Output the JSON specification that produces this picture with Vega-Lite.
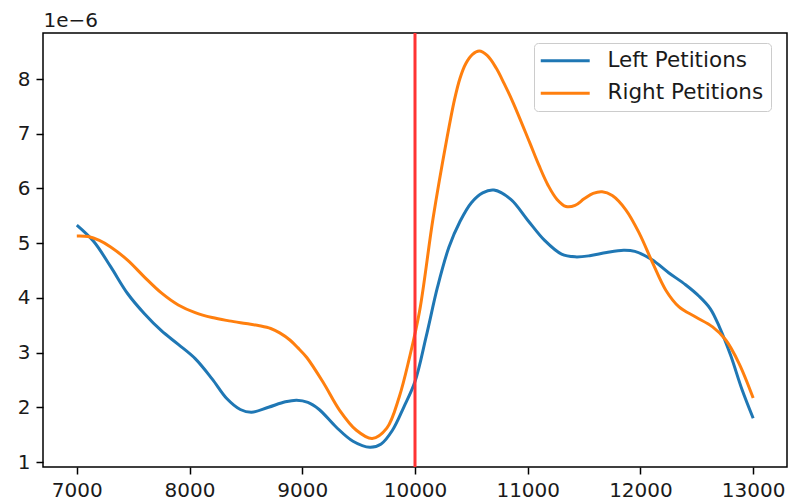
{
  "$schema": "https://vega.github.io/schema/vega-lite/v6.json",
  "width": 744,
  "height": 434,
  "autosize": {"type": "none"},
  "padding": {"left": 43, "top": 33, "right": 1, "bottom": 37},
  "config": {
    "font": "DejaVu Sans",
    "view": {"stroke": "#000000", "strokeWidth": 1.5},
    "axis": {
      "grid": false,
      "domain": false,
      "tickColor": "#000000",
      "tickSize": 7,
      "tickWidth": 1.5,
      "labelFont": "DejaVu Sans",
      "labelFontSize": 20,
      "labelColor": "#1a1a1a",
      "labelPadding": 6
    },
    "legend": {
      "labelFont": "DejaVu Sans",
      "labelFontSize": 21.5,
      "labelColor": "#1a1a1a"
    }
  },
  "datasets": {
    "curves": [
      {"x": 7000, "density": 5.33e-6, "series": "Left Petitions"},
      {"x": 7150, "density": 5.03e-6, "series": "Left Petitions"},
      {"x": 7300, "density": 4.57e-6, "series": "Left Petitions"},
      {"x": 7450, "density": 4.08e-6, "series": "Left Petitions"},
      {"x": 7600, "density": 3.71e-6, "series": "Left Petitions"},
      {"x": 7750, "density": 3.40e-6, "series": "Left Petitions"},
      {"x": 7900, "density": 3.15e-6, "series": "Left Petitions"},
      {"x": 8050, "density": 2.89e-6, "series": "Left Petitions"},
      {"x": 8200, "density": 2.52e-6, "series": "Left Petitions"},
      {"x": 8330, "density": 2.16e-6, "series": "Left Petitions"},
      {"x": 8450, "density": 1.96e-6, "series": "Left Petitions"},
      {"x": 8550, "density": 1.91e-6, "series": "Left Petitions"},
      {"x": 8700, "density": 2.00e-6, "series": "Left Petitions"},
      {"x": 8850, "density": 2.10e-6, "series": "Left Petitions"},
      {"x": 8950, "density": 2.13e-6, "series": "Left Petitions"},
      {"x": 9050, "density": 2.09e-6, "series": "Left Petitions"},
      {"x": 9150, "density": 1.96e-6, "series": "Left Petitions"},
      {"x": 9300, "density": 1.64e-6, "series": "Left Petitions"},
      {"x": 9450, "density": 1.38e-6, "series": "Left Petitions"},
      {"x": 9600, "density": 1.27e-6, "series": "Left Petitions"},
      {"x": 9700, "density": 1.33e-6, "series": "Left Petitions"},
      {"x": 9800, "density": 1.58e-6, "series": "Left Petitions"},
      {"x": 9900, "density": 2.00e-6, "series": "Left Petitions"},
      {"x": 10000, "density": 2.47e-6, "series": "Left Petitions"},
      {"x": 10100, "density": 3.30e-6, "series": "Left Petitions"},
      {"x": 10200, "density": 4.20e-6, "series": "Left Petitions"},
      {"x": 10300, "density": 4.92e-6, "series": "Left Petitions"},
      {"x": 10400, "density": 5.40e-6, "series": "Left Petitions"},
      {"x": 10500, "density": 5.74e-6, "series": "Left Petitions"},
      {"x": 10600, "density": 5.92e-6, "series": "Left Petitions"},
      {"x": 10700, "density": 5.97e-6, "series": "Left Petitions"},
      {"x": 10850, "density": 5.80e-6, "series": "Left Petitions"},
      {"x": 11000, "density": 5.42e-6, "series": "Left Petitions"},
      {"x": 11150, "density": 5.05e-6, "series": "Left Petitions"},
      {"x": 11300, "density": 4.80e-6, "series": "Left Petitions"},
      {"x": 11420, "density": 4.75e-6, "series": "Left Petitions"},
      {"x": 11550, "density": 4.77e-6, "series": "Left Petitions"},
      {"x": 11700, "density": 4.83e-6, "series": "Left Petitions"},
      {"x": 11850, "density": 4.87e-6, "series": "Left Petitions"},
      {"x": 11950, "density": 4.85e-6, "series": "Left Petitions"},
      {"x": 12100, "density": 4.70e-6, "series": "Left Petitions"},
      {"x": 12250, "density": 4.46e-6, "series": "Left Petitions"},
      {"x": 12400, "density": 4.24e-6, "series": "Left Petitions"},
      {"x": 12520, "density": 4.03e-6, "series": "Left Petitions"},
      {"x": 12620, "density": 3.80e-6, "series": "Left Petitions"},
      {"x": 12700, "density": 3.47e-6, "series": "Left Petitions"},
      {"x": 12800, "density": 2.95e-6, "series": "Left Petitions"},
      {"x": 12900, "density": 2.33e-6, "series": "Left Petitions"},
      {"x": 13000, "density": 1.80e-6, "series": "Left Petitions"},
      {"x": 7000, "density": 5.13e-6, "series": "Right Petitions"},
      {"x": 7100, "density": 5.12e-6, "series": "Right Petitions"},
      {"x": 7200, "density": 5.05e-6, "series": "Right Petitions"},
      {"x": 7300, "density": 4.93e-6, "series": "Right Petitions"},
      {"x": 7450, "density": 4.69e-6, "series": "Right Petitions"},
      {"x": 7600, "density": 4.38e-6, "series": "Right Petitions"},
      {"x": 7750, "density": 4.09e-6, "series": "Right Petitions"},
      {"x": 7900, "density": 3.87e-6, "series": "Right Petitions"},
      {"x": 8050, "density": 3.73e-6, "series": "Right Petitions"},
      {"x": 8200, "density": 3.64e-6, "series": "Right Petitions"},
      {"x": 8350, "density": 3.58e-6, "series": "Right Petitions"},
      {"x": 8500, "density": 3.53e-6, "series": "Right Petitions"},
      {"x": 8620, "density": 3.49e-6, "series": "Right Petitions"},
      {"x": 8720, "density": 3.44e-6, "series": "Right Petitions"},
      {"x": 8800, "density": 3.36e-6, "series": "Right Petitions"},
      {"x": 8890, "density": 3.23e-6, "series": "Right Petitions"},
      {"x": 8960, "density": 3.09e-6, "series": "Right Petitions"},
      {"x": 9040, "density": 2.91e-6, "series": "Right Petitions"},
      {"x": 9190, "density": 2.44e-6, "series": "Right Petitions"},
      {"x": 9330, "density": 1.95e-6, "series": "Right Petitions"},
      {"x": 9480, "density": 1.58e-6, "series": "Right Petitions"},
      {"x": 9620, "density": 1.43e-6, "series": "Right Petitions"},
      {"x": 9750, "density": 1.62e-6, "series": "Right Petitions"},
      {"x": 9860, "density": 2.19e-6, "series": "Right Petitions"},
      {"x": 9950, "density": 2.90e-6, "series": "Right Petitions"},
      {"x": 10040, "density": 3.75e-6, "series": "Right Petitions"},
      {"x": 10160, "density": 5.45e-6, "series": "Right Petitions"},
      {"x": 10280, "density": 6.88e-6, "series": "Right Petitions"},
      {"x": 10350, "density": 7.62e-6, "series": "Right Petitions"},
      {"x": 10400, "density": 8.02e-6, "series": "Right Petitions"},
      {"x": 10450, "density": 8.28e-6, "series": "Right Petitions"},
      {"x": 10510, "density": 8.45e-6, "series": "Right Petitions"},
      {"x": 10570, "density": 8.51e-6, "series": "Right Petitions"},
      {"x": 10640, "density": 8.43e-6, "series": "Right Petitions"},
      {"x": 10720, "density": 8.20e-6, "series": "Right Petitions"},
      {"x": 10790, "density": 7.92e-6, "series": "Right Petitions"},
      {"x": 10870, "density": 7.57e-6, "series": "Right Petitions"},
      {"x": 11015, "density": 6.85e-6, "series": "Right Petitions"},
      {"x": 11100, "density": 6.42e-6, "series": "Right Petitions"},
      {"x": 11180, "density": 6.06e-6, "series": "Right Petitions"},
      {"x": 11260, "density": 5.80e-6, "series": "Right Petitions"},
      {"x": 11340, "density": 5.67e-6, "series": "Right Petitions"},
      {"x": 11420, "density": 5.69e-6, "series": "Right Petitions"},
      {"x": 11500, "density": 5.81e-6, "series": "Right Petitions"},
      {"x": 11580, "density": 5.91e-6, "series": "Right Petitions"},
      {"x": 11660, "density": 5.94e-6, "series": "Right Petitions"},
      {"x": 11750, "density": 5.87e-6, "series": "Right Petitions"},
      {"x": 11870, "density": 5.61e-6, "series": "Right Petitions"},
      {"x": 11990, "density": 5.18e-6, "series": "Right Petitions"},
      {"x": 12110, "density": 4.63e-6, "series": "Right Petitions"},
      {"x": 12225, "density": 4.14e-6, "series": "Right Petitions"},
      {"x": 12340, "density": 3.84e-6, "series": "Right Petitions"},
      {"x": 12490, "density": 3.65e-6, "series": "Right Petitions"},
      {"x": 12640, "density": 3.47e-6, "series": "Right Petitions"},
      {"x": 12757, "density": 3.23e-6, "series": "Right Petitions"},
      {"x": 12875, "density": 2.80e-6, "series": "Right Petitions"},
      {"x": 13000, "density": 2.17e-6, "series": "Right Petitions"}
    ],
    "threshold": [{"x": 10000}]
  },
  "layer": [
    {
      "data": {"name": "curves"},
      "mark": {"type": "line", "strokeWidth": 3, "interpolate": "catmull-rom", "clip": true},
      "encoding": {
        "x": {
          "field": "x",
          "type": "quantitative",
          "scale": {"domain": [6700, 13300], "nice": false, "zero": false},
          "axis": {"values": [7000, 8000, 9000, 10000, 11000, 12000, 13000], "format": "d", "title": null}
        },
        "y": {
          "field": "density",
          "type": "quantitative",
          "scale": {"domain": [0.909e-6, 8.841e-6], "nice": false, "zero": false},
          "axis": {
            "values": [1e-6, 2e-6, 3e-6, 4e-6, 5e-6, 6e-6, 7e-6, 8e-6],
            "labelExpr": "round(datum.value * 1e6)",
            "title": "1e\u22126",
            "titleAngle": 0,
            "titleAlign": "left",
            "titleBaseline": "alphabetic",
            "titleX": 0,
            "titleY": -7,
            "titleFont": "DejaVu Sans",
            "titleFontSize": 20,
            "titleFontWeight": "normal",
            "titleColor": "#1a1a1a"
          }
        },
        "color": {
          "field": "series",
          "type": "nominal",
          "scale": {"domain": ["Left Petitions", "Right Petitions"], "range": ["#1f77b4", "#ff7f0e"]},
          "legend": {
            "title": null,
            "orient": "none",
            "legendX": 491,
            "legendY": 10,
            "padding": 7,
            "cornerRadius": 4,
            "strokeColor": "#cccccc",
            "fillColor": "rgba(255,255,255,0.8)",
            "symbolType": "M-2,0H6.9",
            "symbolSize": 121,
            "symbolStrokeWidth": 3,
            "labelOffset": 45,
            "rowPadding": 9.5
          }
        }
      }
    },
    {
      "data": {"name": "threshold"},
      "mark": {"type": "rule", "color": "#ff3333", "strokeWidth": 3},
      "encoding": {"x": {"field": "x", "type": "quantitative"}}
    }
  ]
}
